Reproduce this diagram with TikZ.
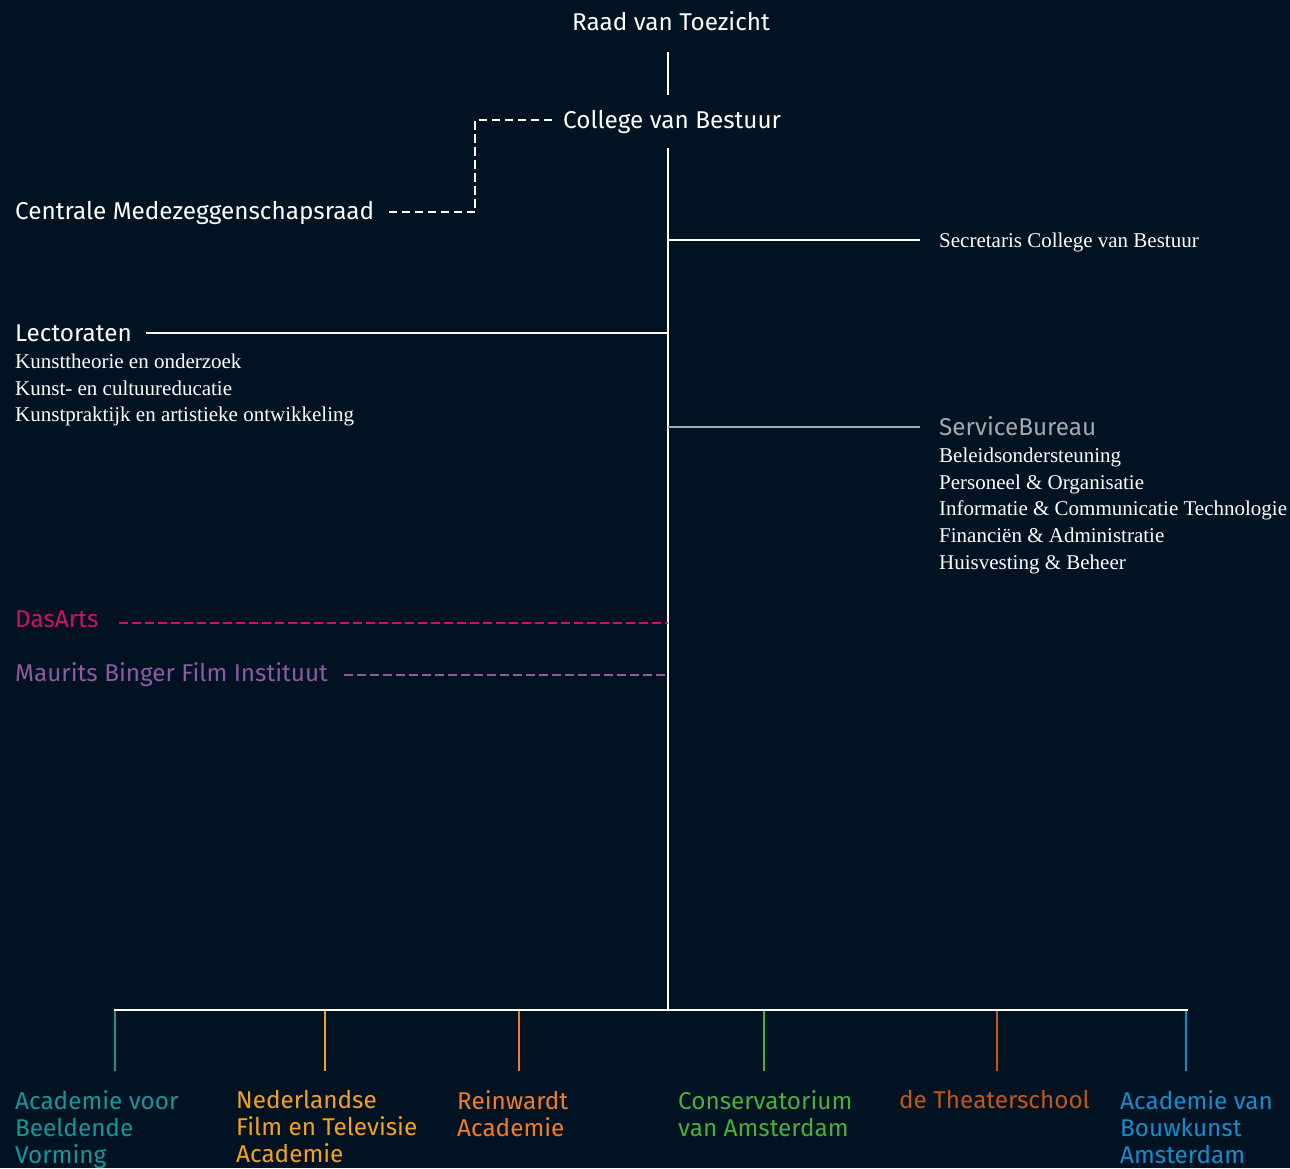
\documentclass[tikz,border=0pt]{standalone}
\usepackage{fontspec}
\setmainfont{Liberation Serif}
\newfontfamily\hsans{Fira Sans}
\definecolor{bg}{HTML}{011323}
\definecolor{cteal}{HTML}{17969A}
\definecolor{cyell}{HTML}{F4A21E}
\definecolor{corange}{HTML}{F07D26}
\definecolor{cgreen}{HTML}{4AAE3C}
\definecolor{cbrown}{HTML}{C0561A}
\definecolor{cblue}{HTML}{1A8BC9}
\definecolor{cpink}{HTML}{D0125A}
\definecolor{cpurple}{HTML}{8E5A9F}
\definecolor{cgrey}{HTML}{A8A8AA}
\begin{document}
\begin{tikzpicture}[x=1pt,y=-1pt,
  hd/.style={font=\hsans\fontsize{24.3}{27}\selectfont,text=white,inner sep=0pt},
  sub/.style={font=\fontsize{21}{26.6}\selectfont,text=white,inner sep=0pt,align=left},
  unit/.style={font=\hsans\fontsize{24.3}{27}\selectfont,inner sep=0pt,align=left,anchor=north west},
  ln/.style={white,line width=2.2pt},
  dsh/.style={line width=2.4pt,dash pattern=on 8.5pt off 4.5pt}]
\fill[bg] (0,0) rectangle (1290,1168);
\useasboundingbox (0,0) rectangle (1290,1168);
% top
\node[hd,anchor=mid] (rvt) at (671,28) {Raad van Toezicht};
\coordinate (rvtb) at (668,52);
\coordinate (cvbt) at (668,95);
\draw[ln] (rvtb) -- (cvbt);
\node[hd,anchor=mid west] (cvb) at (563,126) {College van Bestuur};
\node[hd,anchor=mid west] (cmr) at (15,217) {Centrale Medezeggenschapsraad};
\coordinate (d1) at (552,120);
\coordinate (d2) at (475,120);
\coordinate (d3) at (475,212);
\coordinate (d4) at (387,212);
\draw[white,dsh] (d1) -- (d2) -- (d3) -- (d4);
% spine
\coordinate (sp1) at (668,148);
\coordinate (sp2) at (668,1010);
\draw[ln] (sp1) -- (sp2);
% secretaris
\coordinate (sec) at (668,240);
\coordinate (sece) at (920,240);
\draw[ln] (sec) -- (sece);
\node[sub,anchor=mid west] (secr) at (939,245) {Secretaris College van Bestuur};
% lectoraten
\node[hd,anchor=mid west] (lect) at (15,339) {Lectoraten};
\coordinate (lecs) at (146,333);
\coordinate (lece) at (668,333);
\draw[ln] (lecs) -- (lece);
\node[sub,anchor=north west] (lecsub) at (15,354) {Kunsttheorie en onderzoek\\Kunst- en cultuureducatie\\Kunstpraktijk en artistieke ontwikkeling};
% servicebureau
\coordinate (sbs) at (668,427);
\coordinate (sbe) at (920,427);
\draw[cgrey,line width=2.2pt] (sbs) -- (sbe);
\node[hd,anchor=mid west,text=cgrey] (sb) at (939,433) {ServiceBureau};
\node[sub,anchor=north west] (sbsub) at (939,448) {Beleidsondersteuning\\Personeel \& Organisatie\\Informatie \& Communicatie Technologie\\Financiën \& Administratie\\Huisvesting \& Beheer};
% DasArts
\node[hd,anchor=mid west,text=cpink] (das) at (15,625) {DasArts};
\coordinate (das1) at (119,623);
\coordinate (das2) at (668,623);
\draw[cpink,dsh] (das1) -- (das2);
\node[hd,anchor=mid west,text=cpurple] (mbfi) at (15,679) {Maurits Binger Film Instituut};
\coordinate (mb1) at (344,675);
\coordinate (mb2) at (668,675);
\draw[cpurple,dsh] (mb1) -- (mb2);
% bottom bar
\coordinate (bl) at (114,1010);
\coordinate (br) at (1188,1010);
\draw[ln] (bl) -- (br);
\foreach \x/\c/\n in {115/cteal/t1,325/cyell/t2,519/corange/t3,764/cgreen/t4,997/cbrown/t5,1186/cblue/t6}{
  \coordinate (\n a) at (\x,1011);
  \coordinate (\n b) at (\x,1071);
  \draw[\c,line width=2.2pt] (\n a) -- (\n b);
}
\node[unit,text=cteal] (u1) at (15,1090) {Academie voor\\Beeldende\\Vorming};
\node[unit,text=cyell] (u2) at (236,1090) {Nederlandse\\Film en Televisie\\Academie};
\node[unit,text=corange] (u3) at (457,1090) {Reinwardt\\Academie};
\node[unit,text=cgreen] (u4) at (678,1090) {Conservatorium\\van Amsterdam};
\node[unit,text=cbrown] (u5) at (899,1090) {de Theaterschool};
\node[unit,text=cblue] (u6) at (1120,1090) {Academie van\\Bouwkunst\\Amsterdam};
\end{tikzpicture}
\end{document}
